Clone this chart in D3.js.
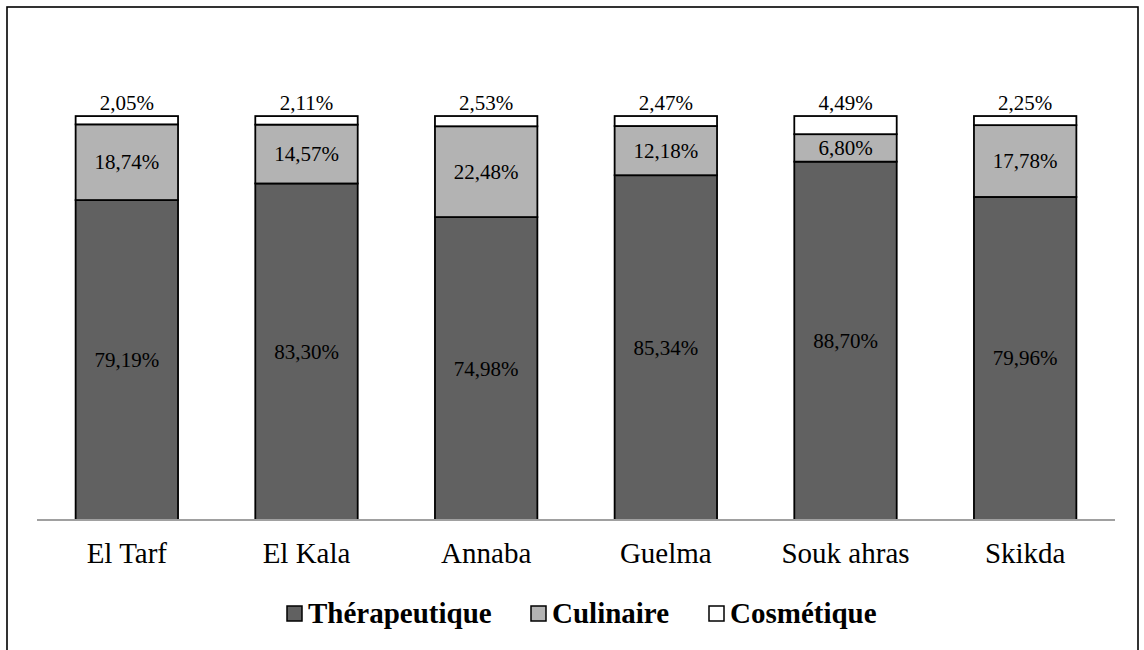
<!DOCTYPE html>
<html>
<head>
<meta charset="utf-8">
<script src="https://cdn.jsdelivr.net/npm/d3@7"></script>
<style>
  html, body { margin: 0; padding: 0; background: #fff; }
  svg text { font-family: "Liberation Serif", Tinos, "Nimbus Roman", "Nimbus Roman No9 L", "Times New Roman", Times, "DejaVu Serif", "Noto Serif", FreeSerif, Georgia, serif; }
</style>
</head>
<body>
<svg id="chart" width="1144" height="650"></svg>
<script>
// Regions surveyed
const categories = ["El Tarf", "El Kala", "Annaba", "Guelma", "Souk ahras", "Skikda"];
// Share of uses per region (%)
const therapeutique = [79.19, 83.30, 74.98, 85.34, 88.70, 79.96];
const culinaire     = [18.74, 14.57, 22.48, 12.18, 6.80, 17.78];
const cosmetique    = [2.05, 2.11, 2.53, 2.47, 4.49, 2.25];
const seriesNames   = ["Thérapeutique", "Culinaire", "Cosmétique"];
const seriesColors  = ["#616161", "#b3b3b3", "#ffffff"];

const fmt = v => v.toFixed(2).replace(".", ",") + "%";

const svg = d3.select("#chart");

// Frame
svg.append("rect")
  .attr("x", 7).attr("y", 7)
  .attr("width", 1131).attr("height", 660)
  .attr("fill", "none").attr("stroke", "#000").attr("stroke-width", 1.6);

const rows = categories.map((c, i) => ({
  cat: c,
  "Thérapeutique": therapeutique[i],
  "Culinaire": culinaire[i],
  "Cosmétique": cosmetique[i]
}));

const stacked = d3.stack().keys(seriesNames)(rows);

const x = d3.scaleBand().domain(categories).range([37, 1115])
  .paddingInner(0.43).paddingOuter(0.215);
const y = d3.scaleLinear().domain([0, 100]).range([520, 116]);
const color = d3.scaleOrdinal().domain(seriesNames).range(seriesColors);

// Bars
const layers = svg.append("g").selectAll("g").data(stacked).join("g")
  .attr("fill", d => color(d.key));

layers.selectAll("rect").data(d => d.map(p => ({ key: d.key, p }))).join("rect")
  .attr("x", d => x(d.p.data.cat))
  .attr("width", x.bandwidth())
  .attr("y", d => y(d.p[1]))
  .attr("height", d => y(d.p[0]) - y(d.p[1]))
  .attr("stroke", "#000").attr("stroke-width", 1.8);

// Value labels
layers.each(function (layer) {
  const g = d3.select(this);
  g.selectAll("text").data(layer).join("text")
    .attr("x", p => x(p.data.cat) + x.bandwidth() / 2)
    .attr("y", p => layer.key === "Cosmétique" ? y(p[1]) - 6 : (y(p[0]) + y(p[1])) / 2 + 7)
    .attr("text-anchor", "middle")
    .attr("fill", "#000")
    .attr("font-size", 21)
    .text(p => fmt(p[1] - p[0]));
});

// Category axis
const axis = svg.append("g").attr("transform", "translate(0,520)")
  .call(d3.axisBottom(x).tickSize(0).tickPadding(22));
axis.attr("font-family", null);
axis.select(".domain").attr("stroke", "#a0a0a0").attr("stroke-width", 2)
  .attr("d", "M37,0H1115");
axis.selectAll("text")
  .attr("font-size", 29).attr("fill", "#000")
  .attr("dy", "0.72em");

// Legend
const legendX = [287, 531, 709];
const legend = svg.append("g").selectAll("g").data(seriesNames).join("g")
  .attr("transform", (d, i) => `translate(${legendX[i]},0)`);
legend.append("rect")
  .attr("x", 0).attr("y", 606).attr("width", 15).attr("height", 15)
  .attr("fill", d => color(d)).attr("stroke", "#000").attr("stroke-width", 1.5);
legend.append("text")
  .attr("x", 21).attr("y", 623)
  .attr("font-size", 29).attr("font-weight", "bold").attr("fill", "#000")
  .text(d => d);
</script>
</body>
</html>
